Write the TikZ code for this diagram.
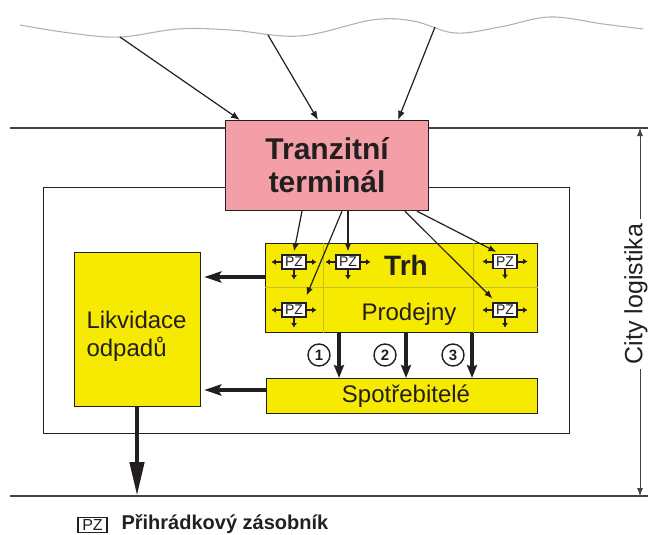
\documentclass[tikz,border=0pt]{standalone}
\usepackage{fontspec}
\setmainfont{Liberation Sans}
\usetikzlibrary{arrows.meta,calc}
\definecolor{tyellow}{RGB}{246,234,0}
\definecolor{tpink}{RGB}{244,158,168}
\definecolor{tline}{RGB}{35,31,32}
\definecolor{tdiv}{RGB}{200,190,40}
\newcommand\PZunit[2]{%
  \node[pz] (#1) at (#2) {PZ};
  \draw[small arrow] (#1.west) -- ++(-10,0);
  \draw[small arrow] (#1.east) -- ++(10,0);
  \draw[small arrow] (#1.south) -- ++(0,10);
}
\begin{document}
\begin{tikzpicture}[x=1pt,y=-1pt,
  every node/.style={text=tline},
  box/.style={draw=tline, line width=1.2pt, inner sep=0pt, anchor=north west},
  pz/.style={draw=tline, fill=white, line width=1.2pt, minimum width=24pt, minimum height=14pt, inner sep=0pt, font=\fontsize{14}{14}\selectfont},
  thin arrow/.style={draw=tline, -{Latex[length=9pt,width=7pt]}, line width=1.2pt},
  small arrow/.style={draw=tline, -{Latex[length=4.5pt,width=6pt]}, line width=2pt},
  thick arrow/.style={draw=tline, -{Stealth[length=13pt,width=10pt,inset=2pt]}, line width=3.8pt},
  circ/.style={circle, draw=tline, line width=1.4pt, minimum size=22pt, inner sep=0pt, font=\fontsize{15}{15}\selectfont\bfseries},
  hline/.style={draw=tline!85, line width=1.5pt},
]
\useasboundingbox (0,0) rectangle (648,535);

% wavy sky line
\draw[gray!60, line width=1.1pt] plot[smooth, tension=0.6] coordinates
  {(20,25) (70,33) (120,37) (178,29) (231,30) (300,36) (372,20) (413,21) (455,33) (500,27) (550,17) (603,24) (643,29)};
\coordinate (w1) at (120,37);
\coordinate (w2) at (268,35);
\coordinate (w3) at (435,27);

% horizontal boundary lines
\draw[hline] (10,128) -- (648,128);
\draw[hline] (10,496) -- (648,496);

% outer city box
\node[box, minimum width=526pt, minimum height=246pt] (city) at (43,187) {};

% transit terminal
\node[box, fill=tpink, minimum width=203pt, minimum height=90pt] (tt) at (225,120) {};
\node[font=\fontsize{30}{33}\selectfont\bfseries, align=center] (tttext) at (tt.center) {Tranzitní\\terminál};

% market box
\node[box, fill=tyellow, minimum width=272pt, minimum height=89pt] (trh) at (265,243) {};
\draw[tdiv, line width=0.7pt] (trh.west |- 0,287) -- (trh.east |- 0,287);
\draw[tdiv, line width=0.7pt] (323,0 |- trh.north) -- (323,0 |- trh.south);
\draw[tdiv, line width=0.7pt] (473,0 |- trh.north) -- (473,0 |- trh.south);
\node[font=\fontsize{28}{28}\selectfont\bfseries] (trhlabel) at (406,265) {Trh};
\node[font=\fontsize{24}{24}\selectfont] (prod) at (409,314) {Prodejny};

% consumers
\node[box, fill=tyellow, minimum width=271pt, minimum height=35pt] (spo) at (266,378) {};
\node[font=\fontsize{24}{24}\selectfont] (spotext) at (406,396) {Spotřebitelé};

% waste disposal
\node[box, fill=tyellow, minimum width=126pt, minimum height=154pt] (lik) at (74,252) {};
\node[font=\fontsize{24}{28}\selectfont, align=left, anchor=west] (liktext) at (83,336) {Likvidace\\odpadů};

% PZ units
\PZunit{pz1}{294,262}
\PZunit{pz2}{348,262}
\PZunit{pz3}{505,261.5}
\PZunit{pz4}{294,310}
\PZunit{pz5}{505,310}

% arrows from the sky to the terminal
\draw[thin arrow] (w1) -- ([xshift=15pt]tt.north west);
\draw[thin arrow] (w2) -- ([xshift=93pt]tt.north west);
\draw[thin arrow] (w3) -- ([xshift=173pt]tt.north west);

% arrows from the terminal to the PZ units
\draw[thin arrow, -{Latex[length=8pt,width=6.5pt]}] ([xshift=77pt]tt.south west) -- ($(pz1.north)+(0,-3)$);
\draw[thin arrow, -{Latex[length=8pt,width=6.5pt]}] ([xshift=117pt]tt.south west) -- ($(pz4.north east)+(0,-7)$);
\draw[thin arrow, -{Latex[length=8pt,width=6.5pt]}] ([xshift=123pt]tt.south west) -- ($(pz2.north)+(0,-3)$);
\draw[thin arrow, -{Latex[length=8pt,width=6.5pt]}] ([xshift=192pt]tt.south west) -- ($(pz3.north west)+(4,-2)$);
\draw[thin arrow, -{Latex[length=8pt,width=6.5pt]}] ([xshift=180pt]tt.south west) -- ($(pz5.north west)+(0,-4)$);

% flows from market to consumers
\draw[thick arrow] (339,0 |- trh.south) -- (339,0 |- spo.north);
\draw[thick arrow] (406,0 |- trh.south) -- (406,0 |- spo.north);
\draw[thick arrow] (472,0 |- trh.south) -- (472,0 |- spo.north);
\node[circ] (c1) at (319,355) {1};
\node[circ] (c2) at (385,355) {2};
\node[circ] (c3) at (453,355) {3};

% flows to waste disposal
\draw[thick arrow, -{Stealth[length=17pt,width=11pt,inset=3pt]}] (trh.west |- 0,277) -- ([xshift=3pt]lik.east |- 0,277);
\draw[thick arrow, -{Stealth[length=17pt,width=11pt,inset=3pt]}] (spo.west |- 0,390) -- ([xshift=3pt]lik.east |- 0,390);
\coordinate (out) at (137,496);
\draw[thick arrow, line width=4.5pt, -{Triangle[length=34pt,width=14pt]}] (lik.south -| out) -- (out);

% city logistics dimension
\coordinate (ctop) at (640,128);
\coordinate (cbot) at (640,496);
\node[rotate=90, font=\fontsize{25}{25}\selectfont, inner sep=5pt] (cl) at (636,294) {City logistika};
\draw[tline!85, line width=0.9pt, -{Latex[length=8pt,width=6pt]}] (cl.east -| ctop) -- (ctop);
\draw[tline!85, line width=0.9pt, -{Latex[length=8pt,width=6pt]}] (cl.west -| cbot) -- (cbot);

% legend
\node[pz, minimum width=29pt, minimum height=15pt, font=\fontsize{16}{16}\selectfont] (legpz) at (92.5,525) {PZ};
\node[font=\fontsize{20}{20}\selectfont\bfseries, anchor=west] (legtext) at (118,524) {Přihrádkový zásobník};
\end{tikzpicture}
\end{document}
